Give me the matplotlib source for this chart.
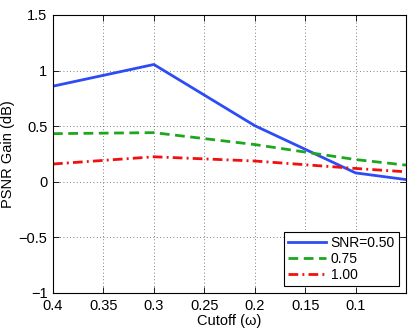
import numpy as np
import matplotlib
matplotlib.use("Agg")
import matplotlib.pyplot as plt

plt.rcParams['font.family'] = ['Liberation Sans', 'DejaVu Sans']

cutoff = [0.4, 0.3, 0.2, 0.1, 0.05]
gain_050 = [0.86, 1.055, 0.505, 0.08, 0.02]
gain_075 = [0.433, 0.442, 0.335, 0.20, 0.15]
gain_100 = [0.16, 0.225, 0.187, 0.12, 0.09]
labels = ['SNR=0.50', '0.75', '1.00']

fig = plt.figure(figsize=(4.15, 3.31), dpi=100)
ax = fig.add_axes([53 / 415, 1 - 293 / 331, 353 / 415, 278 / 331])

ax.plot(cutoff, gain_050, color='#2d4cf5', lw=2.0, ls='-', label=labels[0])
ax.plot(cutoff, gain_075, color='#1fa61f', lw=2.0, ls=(0, (3.5, 2.0)), label=labels[1])
ax.plot(cutoff, gain_100, color='#f01010', lw=2.0, ls=(0, (3.5, 1.5, 0.7, 1.5)), label=labels[2])

ax.set_xlim(0.4, 0.05)
ax.set_ylim(-1, 1.5)
ax.set_xticks([0.4, 0.35, 0.3, 0.25, 0.2, 0.15, 0.1])
ax.set_xticklabels(['0.4', '0.35', '0.3', '0.25', '0.2', '0.15', '0.1'])
ax.set_yticks([-1, -0.5, 0, 0.5, 1, 1.5])
ax.set_yticklabels(['\u22121', '\u22120.5', '0', '0.5', '1', '1.5'])
ax.tick_params(direction='in', top=True, right=True, length=4, width=0.6,
               labelsize=10.5, pad=4)
ax.grid(True, ls=(0, (1, 3)), color='#555555', lw=0.6)
for s in ax.spines.values():
    s.set_linewidth(0.8)

ax.set_xlabel('Cutoff (\u03c9)', fontsize=10.5, labelpad=1)
ax.set_ylabel('PSNR Gain (dB)', fontsize=10.5)
ax.yaxis.set_label_coords(-0.108, 0.5)

leg = ax.legend(loc='lower right', fontsize=10, fancybox=False, framealpha=1,
                edgecolor='black', handlelength=2.7, handletextpad=0.35,
                borderaxespad=0.5, labelspacing=0.15, borderpad=0.3)
leg.get_frame().set_linewidth(0.8)

fig.savefig('out.png', dpi=100)
